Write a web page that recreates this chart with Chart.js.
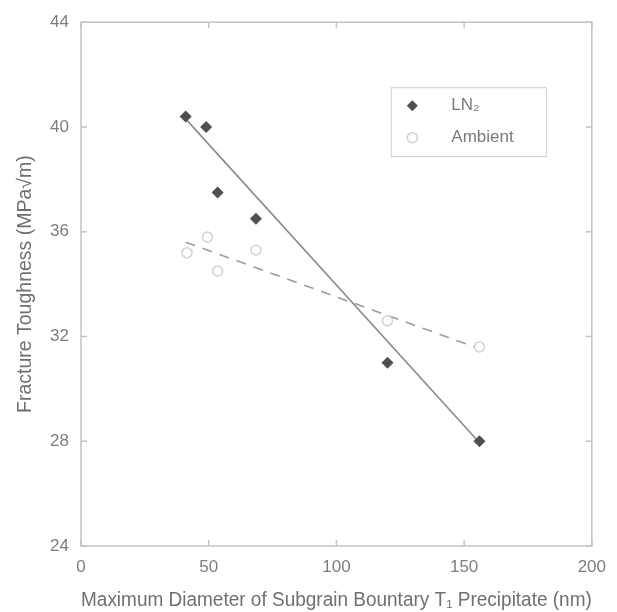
<!DOCTYPE html>
<html>
<head>
<meta charset="utf-8">
<script src="https://cdn.jsdelivr.net/npm/chart.js@4/dist/chart.umd.min.js"></script>
<style>
html,body{margin:0;padding:0;background:#fff;}
#wrap{width:617px;height:612px;}
</style>
</head>
<body>
<div id="wrap"><canvas id="c" width="617" height="612"></canvas></div>
<script>
// ---- data ----
const ln2X = [41, 49, 53.5, 68.5, 120, 156];
const ln2Y = [40.4, 40.0, 37.5, 36.5, 31.0, 28.0];
const ambX = [41.5, 49.5, 53.5, 68.5, 120, 156];
const ambY = [35.2, 35.8, 34.5, 35.3, 32.6, 31.6];
const ln2FitX = [41.5, 155.5];
const ln2FitY = [40.25, 28.0];
const ambFitX = [41, 154];
const ambFitY = [35.6, 31.6];
const xTicks = [0, 50, 100, 150, 200];
const yTicks = [24, 28, 32, 36, 40, 44];
const seriesLabels = ['LN\u2082', 'Ambient'];
const xTitle = 'Maximum Diameter of Subgrain Bountary T\u2081 Precipitate (nm)';
const yTitle = 'Fracture Toughness (MPa\u221Am)';

const pts = (xs, ys) => xs.map((x, i) => ({x: x, y: ys[i]}));

const FONT = '"Liberation Sans", Arial, sans-serif';
const AXIS = '#c4c4c4';

const frameAndTicks = {
  id: 'frameAndTicks',
  afterDatasetsDraw(chart) {
    const {ctx, chartArea: a, scales: {x, y}} = chart;
    ctx.save();
    ctx.strokeStyle = AXIS;
    ctx.lineWidth = 1.5;
    ctx.strokeRect(a.left, a.top, a.right - a.left, a.bottom - a.top);
    const L = 6;
    ctx.beginPath();
    xTicks.forEach(v => {
      const px = x.getPixelForValue(v);
      ctx.moveTo(px, a.bottom); ctx.lineTo(px, a.bottom - L);
      ctx.moveTo(px, a.top); ctx.lineTo(px, a.top + L);
    });
    yTicks.forEach(v => {
      const py = y.getPixelForValue(v);
      ctx.moveTo(a.left, py); ctx.lineTo(a.left + L, py);
      ctx.moveTo(a.right, py); ctx.lineTo(a.right - L, py);
    });
    ctx.stroke();

    // legend box
    const bx = x.getPixelForValue(121.5), by = y.getPixelForValue(41.5);
    const bw = 155, bh = 69;
    ctx.strokeStyle = '#cfcfcf';
    ctx.lineWidth = 1;
    ctx.strokeRect(bx, by, bw, bh);
    const ds = chart.data.datasets;
    const rows = [by + 18, by + 50];
    ctx.font = '17px ' + FONT;
    ctx.textBaseline = 'middle';
    ctx.textAlign = 'left';
    [0, 1].forEach(i => {
      const d = ds[i];
      const cx = bx + 21, cy = rows[i];
      ctx.beginPath();
      if (d.pointStyle === 'rectRot') {
        const r = 5.5;
        ctx.moveTo(cx, cy - r); ctx.lineTo(cx + r, cy); ctx.lineTo(cx, cy + r); ctx.lineTo(cx - r, cy); ctx.closePath();
        ctx.fillStyle = d.pointBackgroundColor; ctx.fill();
      } else {
        ctx.arc(cx, cy, 5, 0, Math.PI * 2);
        ctx.strokeStyle = d.pointBorderColor; ctx.lineWidth = 1.5; ctx.stroke();
      }
      ctx.fillStyle = '#7a7a7a';
      ctx.fillText(d.label, bx + 60, cy);
    });
    ctx.restore();
  }
};

new Chart(document.getElementById('c'), {
  type: 'scatter',
  data: {
    datasets: [
      {label: seriesLabels[0], data: pts(ln2X, ln2Y), pointStyle: 'rectRot', pointRadius: 6,
       pointBackgroundColor: '#505050', pointBorderColor: '#505050', pointBorderWidth: 0, showLine: false},
      {label: seriesLabels[1], data: pts(ambX, ambY), pointStyle: 'circle', pointRadius: 5,
       pointBackgroundColor: 'rgba(0,0,0,0)', pointBorderColor: '#d2d2d2', pointBorderWidth: 1.5, showLine: false},
      {label: 'fit1', data: pts(ln2FitX, ln2FitY), showLine: true, pointRadius: 0,
       borderColor: '#8a8a8a', borderWidth: 1.6},
      {label: 'fit2', data: pts(ambFitX, ambFitY), showLine: true, pointRadius: 0,
       borderColor: '#9c9c9c', borderWidth: 1.6, borderDash: [10, 8]}
    ]
  },
  options: {
    responsive: false,
    animation: false,
    layout: {padding: {top: 22, right: 21, left: 0, bottom: 0}},
    plugins: {legend: {display: false}, tooltip: {enabled: false}},
    scales: {
      x: {
        type: 'linear', min: 0, max: 200,
        afterBuildTicks: s => { s.ticks = xTicks.map(v => ({value: v})); },
        afterFit: s => { s.height = 66; },
        grid: {display: false, drawTicks: false},
        border: {display: false},
        ticks: {padding: 11, color: '#7d7d7d', font: {family: FONT, size: 17}},
        title: {display: true, text: xTitle, color: '#707070', font: {family: FONT, size: 19.5}, padding: {top: 7, bottom: 0}}
      },
      y: {
        type: 'linear', min: 24, max: 44,
        afterBuildTicks: s => { s.ticks = yTicks.map(v => ({value: v})); },
        afterFit: s => { s.width = 81; },
        grid: {display: false, drawTicks: false},
        border: {display: false},
        ticks: {padding: 12, color: '#7d7d7d', font: {family: FONT, size: 17}},
        title: {display: true, text: yTitle, color: '#707070', font: {family: FONT, size: 19.5}, padding: {top: 14, bottom: 0}}
      }
    }
  },
  plugins: [frameAndTicks]
});
</script>
</body>
</html>
